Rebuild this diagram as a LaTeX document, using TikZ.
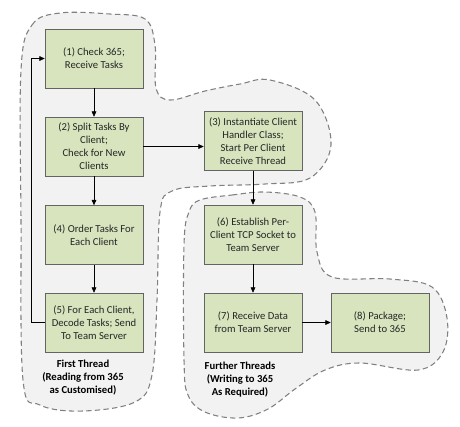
\documentclass[tikz,border=0pt]{standalone}
\usepackage{fontspec}
\setmainfont{Carlito}
\usetikzlibrary{arrows.meta}
\definecolor{boxgreen}{RGB}{215,228,189}
\definecolor{boxline}{RGB}{100,100,100}
\definecolor{blobfill}{RGB}{242,242,242}
\definecolor{blobline}{RGB}{128,128,128}
\begin{document}
\begin{tikzpicture}[x=0.75pt,y=-0.75pt,>={Triangle[length=4pt,width=3.5pt]},
    task/.style={draw=boxline,fill=boxgreen,minimum width=73.5pt,minimum height=44.25pt,
        inner sep=1pt,align=center,font=\fontsize{8}{9.75}\selectfont,text=black!85},
    blob/.style={draw=blobline,fill=blobfill,dashed,dash pattern=on 4pt off 2.5pt,thick},
    caption/.style={align=center,font=\fontsize{8}{9.75}\selectfont\bfseries}]
\useasboundingbox (0,0) rectangle (460,426);
%First thread region (also holds box 3)
    \draw[blob] plot[smooth cycle,tension=0.6] coordinates {
        (21,70) (32,25) (60,13) (110,14) (145,19) (155,45) (156,88) (170,100)
        (205,91) (240,84) (270,80) (315,100) (331,145) (310,178) (265,184)
        (210,186) (172,191) (160,212) (157,300) (152,375) (135,402) (83,411)
        (40,405) (23,380) (21,220)};
%Further threads region
    \draw[blob] plot[smooth cycle,tension=0.6] coordinates {
        (200,200) (232,195) (265,192) (300,197) (315,212) (317,252) (332,277)
        (390,279) (432,287) (447,318) (443,352) (418,370) (360,363) (325,370)
        (295,389) (268,409) (238,418) (205,412) (188,395) (184,360) (184,245)
        (189,212)};
%Tasks
    \node[task] (b1) at (94,58.5) {(1) Check 365;\\Receive Tasks};
    \node[task] (b2) at (94,146.5) {(2) Split Tasks By\\Client;\\Check for New\\Clients};
    \node[task] (b3) at (253,141) {(3) Instantiate Client\\Handler Class;\\Start Per Client\\Receive Thread};
    \node[task] (b4) at (94,235) {(4) Order Tasks For\\Each Client};
    \node[task] (b5) at (94,322.5) {(5) For Each Client,\\Decode Tasks; Send\\To Team Server};
    \node[task] (b6) at (253,234.5) {(6) Establish Per-\\Client TCP Socket to\\Team Server};
    \node[task] (b7) at (253,322.5) {(7) Receive Data\\from Team Server};
    \node[task] (b8) at (380,322.5) {(8) Package;\\Send to 365};
%Thread captions
    \node[caption] (cap1) at (83,378) {First Thread\\(Reading from 365\\as Customised)};
    \node[caption] (cap2) at (240,379.5) {Further Threads\\(Writing to 365\\As Required)};
%Flow
    \draw[->] (b1) -- (b2);
    \draw[->] (b2) -- (b4);
    \draw[->] (b4) -- (b5);
    \draw[->] (b2) -- (b2 -| b3.west);
    \draw[->] (b3) -- (b6);
    \draw[->] (b6) -- (b7);
    \draw[->] (b7) -- (b8);
    \coordinate (loop) at (31,322.5);
    \draw[->] (b5.west) -- (loop) |- (b1.west);
\end{tikzpicture}
\end{document}
